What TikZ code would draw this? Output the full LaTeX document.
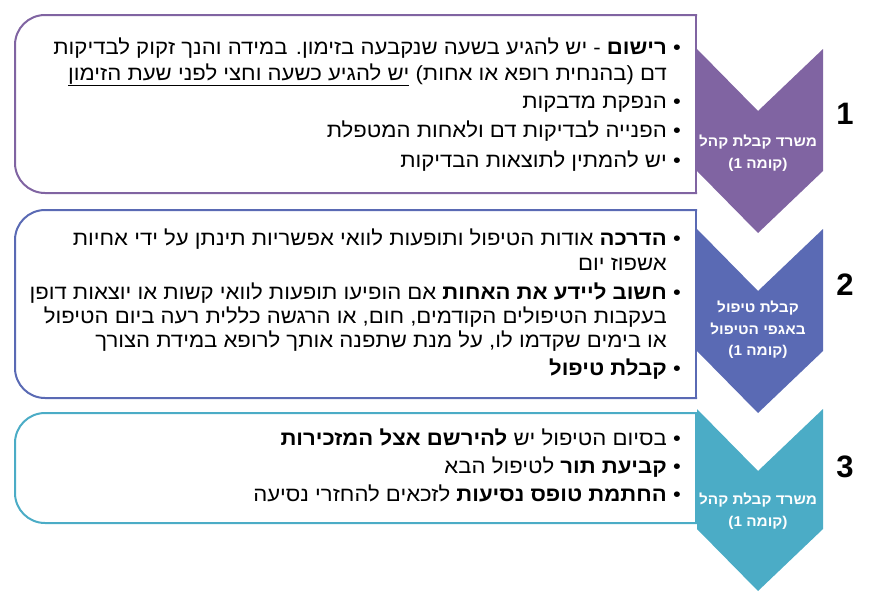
\documentclass[tikz,border=0pt]{standalone}
\usepackage{fontspec}
\usepackage{xcolor}
\usepackage{tikz}
\setmainfont{Liberation Sans}
\newfontfamily\heb[Script=Hebrew, FakeStretch=1.08]{Liberation Sans}
\TeXXeTstate=1
\definecolor{purp}{HTML}{8064A2}
\definecolor{indg}{HTML}{5A6AB4}
\definecolor{teal}{HTML}{4BACC6}
\tikzset{
  frame/.style={draw=#1, line width=2pt, line cap=rect, rounded corners=30pt},
  edge/.style={draw=#1, line width=2pt, line cap=rect},
  chev/.style={fill=#1},
  itm/.style={anchor=base east, inner sep=0pt, font=\heb\fontsize{20.5}{22}\selectfont},
  bul/.style={anchor=base, inner sep=0pt, font=\heb\fontsize{20.5}{22}\selectfont},
  lbl/.style={text=white, align=center, inner sep=0pt, font=\heb\bfseries\fontsize{14.2}{21.5}\selectfont},
  num/.style={inner sep=0pt, font=\bfseries\fontsize{31}{33}\selectfont},
}

\begin{document}
\begin{tikzpicture}[x=1pt,y=-1pt]
  \useasboundingbox (0,0) rectangle (875,600);

  \draw[frame=purp] (696,15) -- (15,15) -- (15,193) -- (696,193);
  \draw[edge=purp] (696,15) -- (696,193);
  \draw[frame=indg] (696,210) -- (15,210) -- (15,398) -- (696,398);
  \draw[edge=indg] (696,210) -- (696,398);
  \draw[frame=teal] (696,413) -- (15,413) -- (15,523) -- (696,523);
  \draw[edge=teal] (696,413) -- (696,523);

  \fill[chev=purp] (697,49) -- (758,111) -- (823,49) -- (823,171) -- (758,233) -- (697,171) -- cycle;
  \fill[chev=indg] (697,229) -- (758,291) -- (823,229) -- (823,351) -- (758,413) -- (697,351) -- cycle;
  \fill[chev=teal] (697,409) -- (758,471) -- (823,409) -- (823,529) -- (758,591) -- (697,529) -- cycle;

  \node[lbl] (c1) at (758,153) {\beginR משרד קבלת קהל\endR\\\beginR(קומה 1)\endR};
  \node[lbl] (c2) at (758,330) {\beginR קבלת טיפול\endR\\\beginR באגפי הטיפול\endR\\\beginR(קומה 1)\endR};
  \node[lbl] (c3) at (758,511) {\beginR משרד קבלת קהל\endR\\\beginR(קומה 1)\endR};

  \node[num] (n1) at (845,114) {1};
  \node[num] (n2) at (845,285) {2};
  \node[num] (n3) at (845,467) {3};

  % box 1
  \node[bul] (p11) at (677,54) {•};
  \node[itm] (t11) at (667,54) {\beginR\textbf{רישום} - יש להגיע בשעה שנקבעה בזימון. במידה והנך זקוק לבדיקות\endR};
  \node[itm] (t12) at (667,80) {\beginR דם (בהנחית רופא או אחות) \underline{\beginR יש להגיע כשעה וחצי לפני שעת הזימון\endR}\endR};
  \node[bul] (p13) at (677,108) {•};
  \node[itm] (t13) at (667,108) {\beginR הנפקת מדבקות\endR};
  \node[bul] (p14) at (677,137) {•};
  \node[itm] (t14) at (667,137) {\beginR הפנייה לבדיקות דם ולאחות המטפלת\endR};
  \node[bul] (p15) at (677,167) {•};
  \node[itm] (t15) at (667,167) {\beginR יש להמתין לתוצאות הבדיקות\endR};

  % box 2
  \node[bul] (p21) at (677,245) {•};
  \node[itm] (t21) at (667,245) {\beginR\textbf{הדרכה} אודות הטיפול ותופעות לוואי אפשריות תינתן על ידי אחיות\endR};
  \node[itm] (t22) at (667,270) {\beginR אשפוז יום\endR};
  \node[bul] (p23) at (677,299) {•};
  \node[itm] (t23) at (667,299) {\beginR\textbf{חשוב ליידע את האחות} אם הופיעו תופעות לוואי קשות או יוצאות דופן\endR};
  \node[itm] (t24) at (667,323) {\beginR בעקבות הטיפולים הקודמים, חום, או הרגשה כללית רעה ביום הטיפול\endR};
  \node[itm] (t25) at (667,347) {\beginR או בימים שקדמו לו, על מנת שתפנה אותך לרופא במידת הצורך\endR};
  \node[bul] (p26) at (677,375) {•};
  \node[itm] (t26) at (667,375) {\beginR\textbf{קבלת טיפול}\endR};

  % box 3
  \node[bul] (p31) at (677,445) {•};
  \node[itm] (t31) at (667,445) {\beginR בסיום הטיפול יש \textbf{להירשם אצל המזכירות}\endR};
  \node[bul] (p32) at (677,473) {•};
  \node[itm] (t32) at (667,473) {\beginR\textbf{קביעת תור} לטיפול הבא\endR};
  \node[bul] (p33) at (677,501) {•};
  \node[itm] (t33) at (667,501) {\beginR\textbf{החתמת טופס נסיעות} לזכאים להחזרי נסיעה\endR};
\end{tikzpicture}
\end{document}
